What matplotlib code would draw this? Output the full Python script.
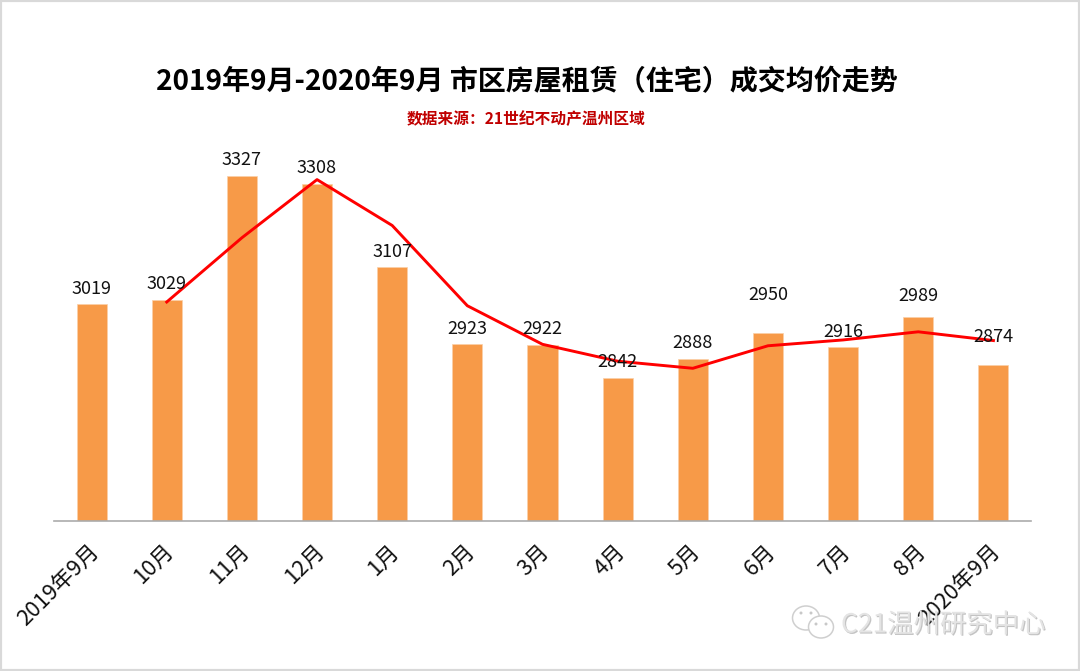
import matplotlib
matplotlib.use("Agg")
import matplotlib.pyplot as plt
from matplotlib.patches import Ellipse, Rectangle
from matplotlib.transforms import ScaledTranslation
import matplotlib.patheffects as pe

plt.rcParams['font.family'] = ['Noto Sans CJK SC', 'DejaVu Sans']

categories = ['2019年9月', '10月', '11月', '12月', '1月', '2月', '3月', '4月', '5月', '6月', '7月', '8月', '2020年9月']
prices = [3019, 3029, 3327, 3308, 3107, 2923, 2922, 2842, 2888, 2950, 2916, 2989, 2874]
trend_positions = [1, 2, 3, 4, 5, 6, 7, 8, 9, 10, 11, 12]
trend_values = [3024, 3178, 3317.5, 3207.5, 3015, 2922.5, 2882, 2865, 2919, 2933, 2952.5, 2931.5]
title = '2019年9月-2020年9月 市区房屋租赁（住宅）成交均价走势'
subtitle = '数据来源：21世纪不动产温州区域'
watermark = 'C21温州研究中心'

W, H = 1080, 671
fig = plt.figure(figsize=(W / 100, H / 100), dpi=100, facecolor='white')

def fx(px): return px / W
def fy(py): return 1 - py / H

fig.add_artist(Rectangle((0, 0), 1, 1, transform=fig.transFigure, fill=False,
                         edgecolor='#d9d9d9', linewidth=3))

ax = fig.add_axes([fx(54), fy(520.5), fx(1031 - 54), 417 / H])
x = list(range(len(categories)))
ax.bar(x, prices, width=0.4, color='#F79A48', edgecolor='#FBD0A8', linewidth=0.5, zorder=2)
ax.plot(trend_positions, trend_values, color='#FF0000', lw=2.1, zorder=3)
ax.set_xlim(-0.5, 12.5)
ax.set_ylim(2500, 3500)
ax.set_yticks([])
for s in ['top', 'left', 'right']:
    ax.spines[s].set_visible(False)
ax.spines['bottom'].set_color('#ababab')
ax.spines['bottom'].set_linewidth(1.2)
ax.set_xticks(x)
ax.set_xticklabels(categories, rotation=45, ha='right', va='top', rotation_mode='anchor', fontsize=15.8, color='#111111')
ax.tick_params(axis='x', length=0, pad=14)
for lab in ax.get_xticklabels():
    lab.set_transform(lab.get_transform() + ScaledTranslation(-4 / 100, 0, fig.dpi_scale_trans))

# label lift above bar top, in pixels; a few labels sit further up as in the original
lift = [15.5] * 13
lift[9], lift[11], lift[12] = 37.5, 20.5, 27.5
for i, v in enumerate(prices):
    ax.annotate(str(v), (i, v), xytext=(0, lift[i] * 0.72), textcoords='offset points',
                ha='center', va='center', fontsize=13, color='#111111', zorder=4)

fig.text(fx(527), fy(82.5), title, ha='center', va='center', fontsize=20.2, fontweight='bold', color='black')
fig.text(fx(526.5), fy(118.5), subtitle, ha='center', va='center', fontsize=11.3, fontweight='bold', color='#C00000')

# watermark
shadow = [pe.withSimplePatchShadow(offset=(0.8, -0.8), shadow_rgbFace='#888888', alpha=0.5)]
fig.text(fx(841), fy(625), watermark, ha='left', va='center', fontsize=19, color='#e4e4e4', path_effects=shadow, zorder=5)
for cx, cy, w, h in [(806, 618, 27, 24), (821, 627, 25, 22)]:
    fig.add_artist(Ellipse((fx(cx), fy(cy)), w / W, h / H, transform=fig.transFigure,
                           facecolor='white', edgecolor='#cfcfcf', linewidth=1.1, zorder=5))
for dx, dy in [(801, 613), (811, 613), (816, 624), (826, 624)]:
    fig.add_artist(Ellipse((fx(dx), fy(dy)), 3 / W, 3 / H, transform=fig.transFigure,
                           facecolor='#c8c8c8', edgecolor='none', zorder=6))

fig.savefig('out.png', dpi=100, facecolor='white')
